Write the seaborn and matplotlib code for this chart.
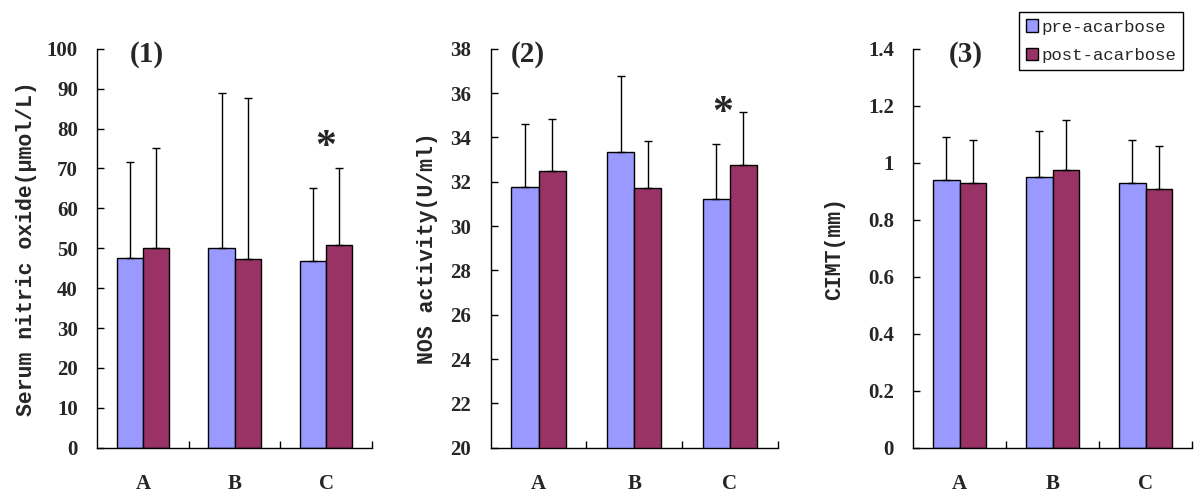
import pandas as pd
import numpy as np
import seaborn as sns
import matplotlib
import matplotlib.pyplot as plt
matplotlib.use('Agg')

#%% data
groups = ["A", "B", "C"]
series = ["pre-acarbose", "post-acarbose"]

no_pre = [47.5, 50.0, 46.7]
no_post = [50.0, 47.3, 50.7]
no_pre_top = [71.5, 89.0, 65.0]
no_post_top = [75.0, 87.7, 70.0]

nos_pre = [31.75, 33.35, 31.2]
nos_post = [32.5, 31.7, 32.75]
nos_pre_top = [34.6, 36.75, 33.7]
nos_post_top = [34.85, 33.85, 35.15]

cimt_pre = [0.94, 0.95, 0.93]
cimt_post = [0.93, 0.976, 0.908]
cimt_pre_top = [1.09, 1.11, 1.08]
cimt_post_top = [1.08, 1.15, 1.06]

ylabels = ["Serum nitric oxide(\u03bcmol/L)", "NOS activity(U/ml)", "CIMT(mm)"]
panel_labels = ["(1)", "(2)", "(3)"]
ylims = [(0, 100), (20, 38), (0, 1.4)]
yticks = [np.arange(0, 101, 10), np.arange(20, 39, 2), np.arange(0, 1.41, 0.2)]
ytick_labels = [
    [str(v) for v in range(0, 101, 10)],
    [str(v) for v in range(20, 39, 2)],
    ["0", "0.2", "0.4", "0.6", "0.8", "1", "1.2", "1.4"],
]
# significance mark over group C
star_y = [75, 35.05, None]
star_x = [2.0, 1.93, None]

colors_palette = ["#9999FF", "#993366"]

panels = [
    (no_pre, no_post, no_pre_top, no_post_top),
    (nos_pre, nos_post, nos_pre_top, nos_post_top),
    (cimt_pre, cimt_post, cimt_pre_top, cimt_post_top),
]

#%% figure
sns.set_style("white")
plt.rcParams['font.family'] = ['Liberation Serif', 'DejaVu Serif']

fig = plt.figure(figsize=(12, 4.97), dpi=100)
positions = [
    [0.081, 0.099, 0.229, 0.803],
    [0.409, 0.099, 0.239, 0.803],
    [0.761, 0.099, 0.2325, 0.803],
]
label_pads = [7, 9, 16]

for i, (pre, post, pre_top, post_top) in enumerate(panels):
    ax = fig.add_axes(positions[i])
    df = pd.DataFrame({
        "group": groups * 2,
        "series": [series[0]] * 3 + [series[1]] * 3,
        "value": pre + post,
        "top": pre_top + post_top,
    })
    sns.barplot(data=df, x="group", y="value", hue="series",
                hue_order=series, order=groups,
                palette=colors_palette, width=0.57, errorbar=None,
                edgecolor="black", linewidth=1.0, saturation=1,
                legend=(i == 2), ax=ax)

    # upper-only error bars on each bar
    for container, s in zip(ax.containers, series):
        sub = df.loc[df.series == s]
        xs = [p.get_x() + p.get_width() / 2 for p in container.patches]
        vals = sub["value"].to_numpy()
        tops = sub["top"].to_numpy()
        ax.errorbar(xs, vals, yerr=[np.zeros_like(vals), tops - vals],
                    fmt="none", ecolor="black", elinewidth=1.0,
                    capsize=3, capthick=1.0)

    ax.set_xlim(-0.5, 2.5)
    ax.set_ylim(*ylims[i])
    ax.set_yticks(yticks[i])
    ax.set_yticklabels(ytick_labels[i], fontsize=15, fontweight="bold")
    ax.tick_params(axis="y", direction="in", length=5, width=1, pad=14,
                   left=True, color="black")

    # category ticks at boundaries, labels at centers
    ax.set_xticks([0.5, 1.5, 2.5])
    ax.set_xticklabels([])
    ax.set_xticks([0, 1, 2], minor=True)
    ax.set_xticklabels(groups, minor=True, fontsize=15, fontweight="bold")
    ax.tick_params(axis="x", which="major", direction="in", length=5,
                   width=1, bottom=True, color="black")
    ax.tick_params(axis="x", which="minor", length=0, pad=19)

    for side in ["top", "right"]:
        ax.spines[side].set_visible(False)
    for side in ["left", "bottom"]:
        ax.spines[side].set_color("black")
        ax.spines[side].set_linewidth(1.0)

    ax.set_xlabel("")
    ax.set_ylabel(ylabels[i], family=["Liberation Mono", "DejaVu Sans Mono"],
                  fontsize=15.5, fontweight="bold", labelpad=label_pads[i])

    ax.text([0.18, 0.13, 0.19][i], 0.985, panel_labels[i],
            transform=ax.transAxes, ha="center", va="center",
            fontsize=21, fontweight="bold")

    if star_y[i] is not None:
        ax.text(star_x[i], star_y[i], "*", ha="center", va="center",
                fontsize=30, fontweight="bold")

    if i == 2:
        handles, labels = ax.get_legend_handles_labels()
        ax.get_legend().remove()
        leg = fig.legend(handles, labels, loc="upper right",
                         bbox_to_anchor=(0.986, 0.975),
                         prop={"family": "Liberation Mono", "size": 12.5},
                         frameon=True, fancybox=False, framealpha=1,
                         edgecolor="black", handlelength=0.7,
                         handleheight=0.7, handletextpad=0.2,
                         labelspacing=0.75, borderpad=0.4,
                         borderaxespad=0)
        leg.get_frame().set_linewidth(1.0)

fig.savefig("out.png", dpi=100)
